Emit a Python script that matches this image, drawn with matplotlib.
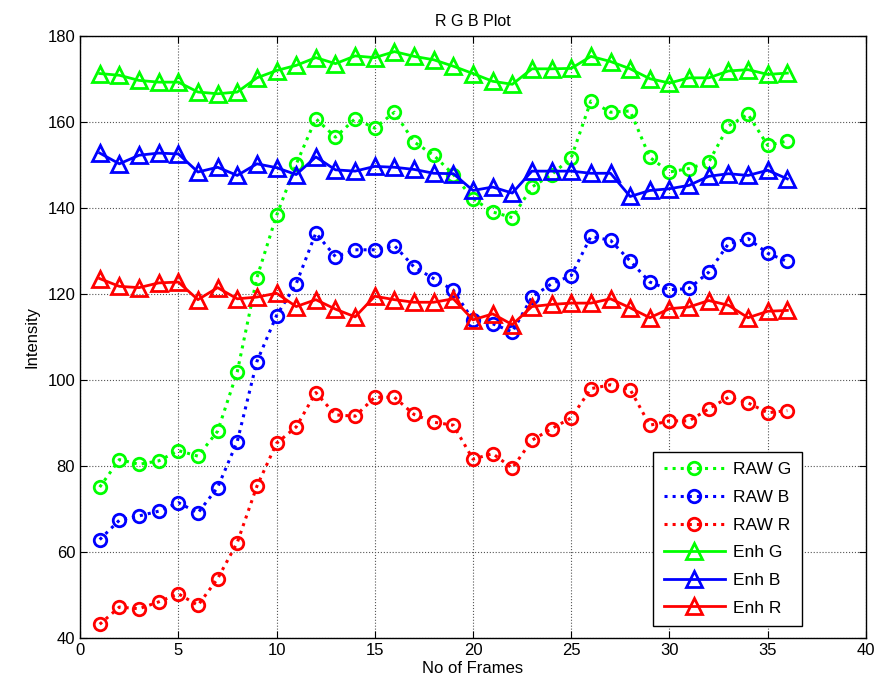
import matplotlib
matplotlib.use('Agg')
import matplotlib.pyplot as plt

frames = list(range(1, 37))

raw_g = [75.1, 81.5, 80.4, 81.2, 83.6, 82.3, 88.1, 101.9, 123.8, 138.3, 150.2, 160.8,
         156.5, 160.8, 158.6, 162.3, 155.4, 152.3, 147.8, 142.2, 139.1, 137.8, 144.9, 147.8,
         151.7, 164.9, 162.3, 162.6, 151.8, 148.4, 149.2, 150.7, 159.1, 161.8, 154.6, 155.6]
raw_b = [62.9, 67.4, 68.4, 69.5, 71.5, 69.1, 75.0, 85.7, 104.3, 115.0, 122.4, 134.2,
         128.7, 130.3, 130.3, 131.3, 126.3, 123.6, 120.9, 113.9, 113.1, 111.2, 119.3, 122.4,
         124.3, 133.4, 132.5, 127.7, 122.8, 121.0, 121.3, 125.1, 131.7, 132.9, 129.5, 127.6]
raw_r = [43.2, 47.2, 46.8, 48.4, 50.3, 47.6, 53.8, 62.2, 75.3, 85.3, 89.1, 97.1,
         91.9, 91.6, 96.0, 96.0, 92.0, 90.2, 89.5, 81.6, 82.9, 79.5, 86.0, 88.7,
         91.2, 98.0, 98.9, 97.8, 89.5, 90.5, 90.5, 93.3, 96.0, 94.7, 92.4, 92.9]
enh_g = [171.3, 170.9, 169.7, 169.3, 169.3, 167.0, 166.6, 167.0, 170.3, 172.0, 173.2, 175.0,
         173.6, 175.4, 175.0, 176.4, 175.3, 174.5, 173.0, 171.3, 169.5, 168.8, 172.4, 172.4,
         172.5, 175.3, 174.1, 172.4, 170.1, 169.1, 170.3, 170.3, 171.9, 172.2, 171.1, 171.4]
enh_b = [152.8, 150.3, 152.3, 152.8, 152.6, 148.4, 149.5, 147.6, 150.3, 149.4, 147.8, 151.9,
         148.9, 148.6, 149.7, 149.5, 149.0, 148.1, 148.0, 144.1, 144.9, 143.5, 148.6, 148.6,
         148.6, 148.1, 148.1, 142.7, 144.1, 144.5, 145.3, 147.4, 148.0, 147.6, 148.8, 146.8]
enh_r = [123.6, 121.8, 121.5, 122.6, 122.8, 118.7, 121.5, 118.9, 119.3, 120.2, 117.1, 118.7,
         116.5, 114.7, 119.5, 118.7, 118.1, 118.1, 118.9, 114.0, 115.4, 112.9, 117.1, 117.6,
         117.9, 117.9, 118.9, 116.8, 114.5, 116.6, 117.0, 118.5, 117.4, 114.5, 116.0, 116.2]

plt.rcParams['font.family'] = ['Liberation Sans', 'DejaVu Sans']

fig = plt.figure(figsize=(8.8, 6.95), dpi=100)
ax = fig.add_axes([0.091, 0.082, 0.893, 0.866])

raw_kw = dict(linestyle=':', linewidth=2.2, marker='o', markersize=9,
              markerfacecolor='none', markeredgewidth=2)
enh_kw = dict(linestyle='-', linewidth=2, marker='^', markersize=11,
              markerfacecolor='none', markeredgewidth=2)

ax.plot(frames, raw_g, color='#00ff00', label='RAW G', **raw_kw)
ax.plot(frames, raw_b, color='#0000ff', label='RAW B', **raw_kw)
ax.plot(frames, raw_r, color='#ff0000', label='RAW R', **raw_kw)
ax.plot(frames, enh_g, color='#00ff00', label='Enh G', **enh_kw)
ax.plot(frames, enh_b, color='#0000ff', label='Enh B', **enh_kw)
ax.plot(frames, enh_r, color='#ff0000', label='Enh R', **enh_kw)

ax.set_xlim(0, 40)
ax.set_ylim(40, 180)
ax.set_xticks(range(0, 41, 5))
ax.set_yticks(range(40, 181, 20))
ax.grid(True, linestyle=':', color='#555555', linewidth=0.8)
ax.tick_params(direction='in', top=True, right=True, labelsize=12, length=5)
for s in ax.spines.values():
    s.set_linewidth(1)

ax.set_xlabel('No of Frames', fontsize=12, labelpad=2)
ax.set_ylabel('Intensity', fontsize=12, labelpad=6)
ax.set_title('R G B Plot', fontsize=11.5, pad=7)

leg = ax.legend(loc='lower right', bbox_to_anchor=(0.9186, 0.02), borderaxespad=0,
                fontsize=12.5, handlelength=3.5, handletextpad=0.5,
                fancybox=False, framealpha=1, edgecolor='black',
                borderpad=0.6, labelspacing=0.72)
leg.get_frame().set_linewidth(1)

fig.savefig('out.png', dpi=100)
